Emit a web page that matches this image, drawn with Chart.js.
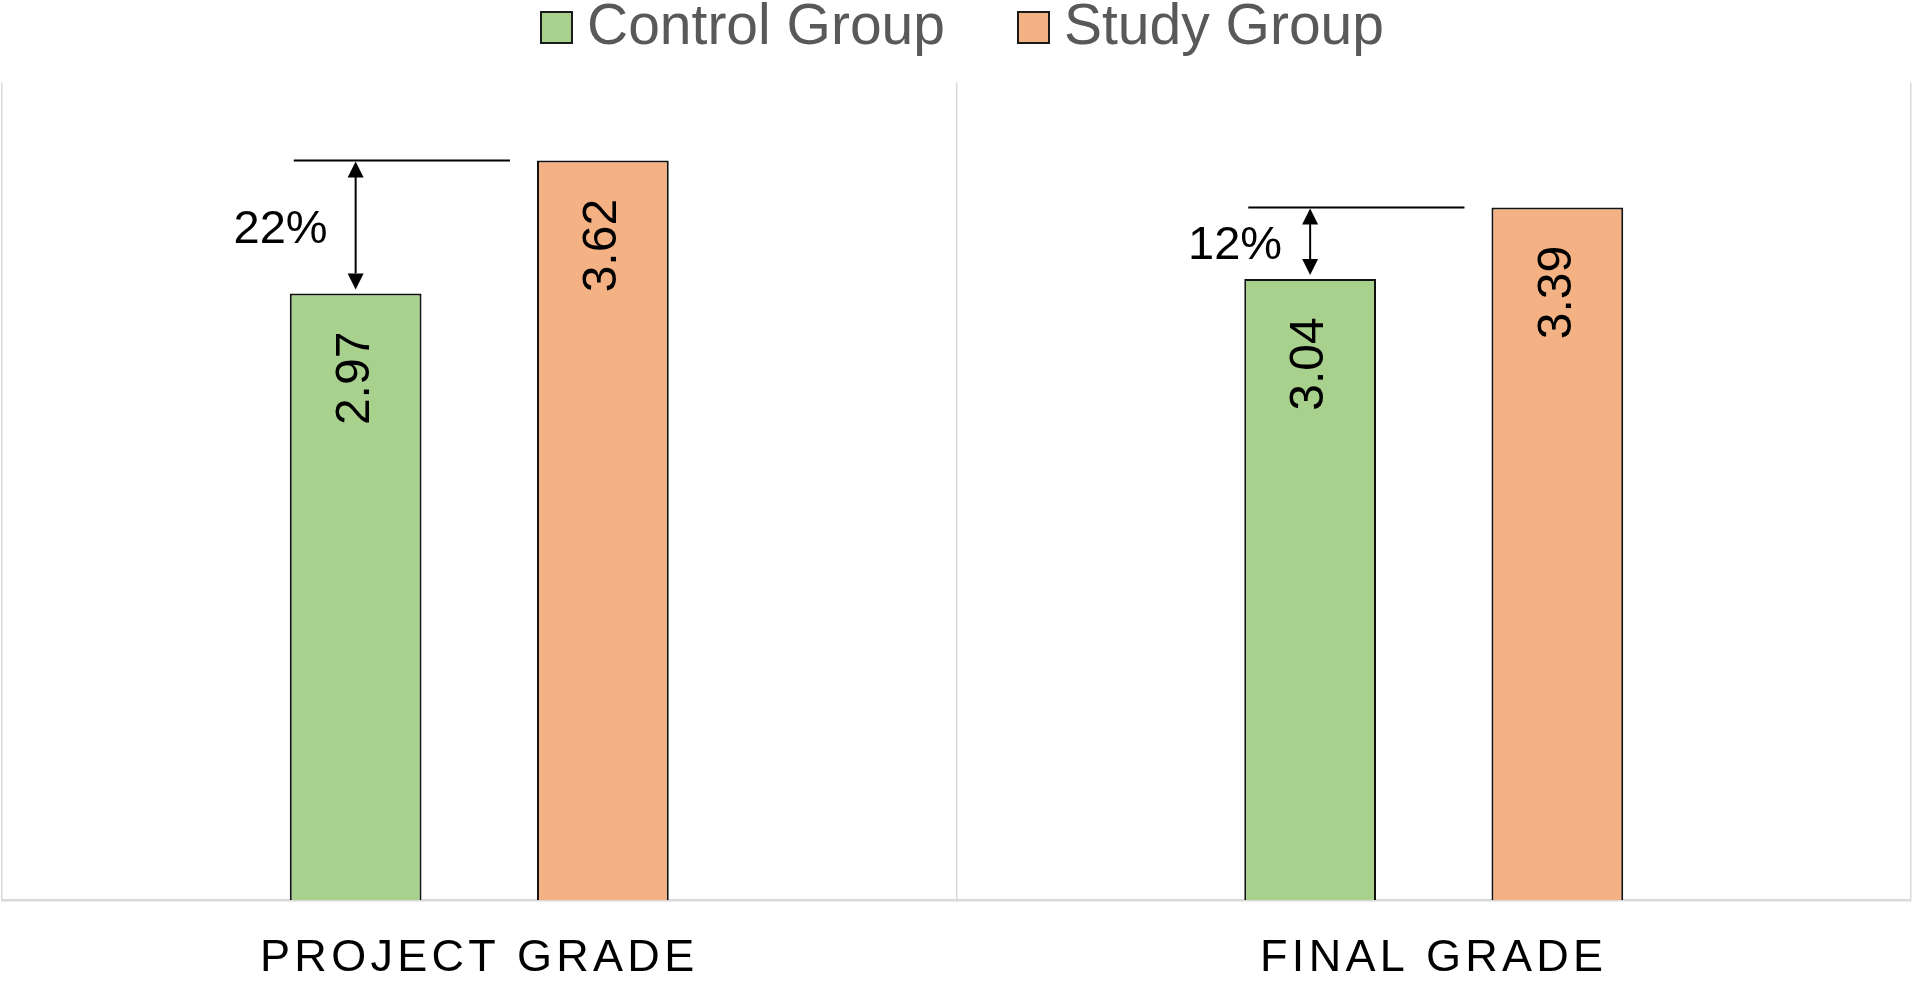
<!DOCTYPE html>
<html>
<head>
<meta charset="utf-8">
<title>Project / Final grade</title>
<script src="https://cdn.jsdelivr.net/npm/chart.js@4.4.1/dist/chart.umd.min.js"></script>
<style>
  html, body { margin: 0; padding: 0; background: #fff; }
  #wrap { width: 1913px; height: 981px; }
</style>
</head>
<body>
<div id="wrap"><canvas id="gradeChart"></canvas></div>
<script>
// Control vs study group grades
const categories = ['PROJECT GRADE', 'FINAL GRADE'];
const seriesNames = ['Control Group', 'Study Group'];
const controlScores = [2.97, 3.04];
const studyScores = [3.62, 3.39];
const gapLabels = ['22%', '12%'];

const FONT = '"Liberation Sans", Arial, sans-serif';
const GREEN = '#A9D18E';
const ORANGE = '#F4B183';

// --- legend drawn on top, Excel-like ---
const topLegend = {
    id: 'topLegend',
    afterDraw(chart) {
        const ctx = chart.ctx;
        const box = 31, gap = 15, itemGap = 73;
        ctx.save();
        ctx.font = '57px ' + FONT;
        const items = chart.data.datasets.map(ds => ({
            text: ds.label,
            fill: ds.backgroundColor,
            w: ctx.measureText(ds.label).width
        }));
        const total = items.reduce((s, it) => s + box + gap + it.w, 0) + itemGap * (items.length - 1);
        let x = (chart.width - total) / 2 + 6;
        items.forEach(it => {
            ctx.fillStyle = it.fill;
            ctx.fillRect(x, 12, box, box);
            ctx.lineWidth = 2;
            ctx.strokeStyle = '#1a1a1a';
            ctx.strokeRect(x, 12, box, box);
            ctx.fillStyle = '#595959';
            ctx.textBaseline = 'alphabetic';
            ctx.textAlign = 'left';
            ctx.fillText(it.text, x + box + gap, 44);
            x += box + gap + it.w + itemGap;
        });
        ctx.restore();
    }
};

// tracking on the category labels only
const axisTracking = {
    id: 'axisTracking',
    beforeDraw(chart) { chart.ctx.letterSpacing = '4.3px'; },
    beforeDatasetsDraw(chart) { chart.ctx.letterSpacing = '0px'; }
};

// rotated values inside the bars
const valueLabels = {
    id: 'valueLabels',
    afterDatasetsDraw(chart) {
        const ctx = chart.ctx;
        chart.data.datasets.forEach((ds, di) => {
            chart.getDatasetMeta(di).data.forEach((bar, i) => {
                ctx.save();
                ctx.translate(bar.x, bar.y + 85);
                ctx.rotate(-Math.PI / 2);
                ctx.font = '48px ' + FONT;
                ctx.fillStyle = '#000';
                ctx.textAlign = 'center';
                ctx.textBaseline = 'middle';
                ctx.fillText(ds.data[i].toFixed(2), 0, 0);
                ctx.restore();
            });
        });
    }
};

// reference line + double arrow showing the gain
const gapArrows = {
    id: 'gapArrows',
    afterDatasetsDraw(chart) {
        const ctx = chart.ctx;
        const control = chart.getDatasetMeta(0).data;
        const study = chart.getDatasetMeta(1).data;
        const head = 16, half = 8;
        ctx.save();
        ctx.strokeStyle = '#000';
        ctx.fillStyle = '#000';
        ctx.lineWidth = 2;
        categories.forEach((c, i) => {
            const g = control[i], s = study[i];
            const gLeft = g.x - g.width / 2;
            const sLeft = s.x - s.width / 2;
            const top = s.y, bottom = g.y - 4;

            ctx.beginPath();
            ctx.moveTo(gLeft + 4, top);
            ctx.lineTo(sLeft - 27, top);
            ctx.stroke();

            const ax = g.x;
            ctx.beginPath();
            ctx.moveTo(ax, top + head);
            ctx.lineTo(ax, bottom - head);
            ctx.stroke();

            ctx.beginPath();
            ctx.moveTo(ax, top + 1);
            ctx.lineTo(ax - half, top + head + 1);
            ctx.lineTo(ax + half, top + head + 1);
            ctx.closePath();
            ctx.fill();

            ctx.beginPath();
            ctx.moveTo(ax, bottom);
            ctx.lineTo(ax - half, bottom - head);
            ctx.lineTo(ax + half, bottom - head);
            ctx.closePath();
            ctx.fill();

            ctx.font = '47px ' + FONT;
            ctx.textAlign = 'right';
            ctx.textBaseline = 'middle';
            ctx.fillText(gapLabels[i], ax - 28, (top + g.y) / 2 + 3);
        });
        ctx.restore();
    }
};

const chart = new Chart(document.getElementById('gradeChart'), {
    type: 'bar',
    data: {
        labels: categories,
        datasets: [
            { label: seriesNames[0], data: controlScores, backgroundColor: GREEN, borderColor: '#111', borderWidth: 2 },
            { label: seriesNames[1], data: studyScores, backgroundColor: ORANGE, borderColor: '#111', borderWidth: 2 }
        ]
    },
    options: {
        responsive: true,
        maintainAspectRatio: false,
        animation: false,
        devicePixelRatio: 1,
        layout: { padding: { top: 83, left: 2, right: 2, bottom: -36 } },
        datasets: { bar: { barPercentage: 0.533, categoryPercentage: 0.518 } },
        scales: {
            x: {
                grid: { color: '#d9d9d9', lineWidth: 1.5, drawTicks: false },
                border: { color: '#d9d9d9', width: 2.5 },
                ticks: { color: '#000', padding: 36, font: { family: FONT, size: 45, lineHeight: 1 } }
            },
            y: {
                display: false,
                min: 0,
                max: 4
            }
        },
        plugins: {
            legend: { display: false },
            tooltip: { enabled: false }
        }
    },
    plugins: [topLegend, axisTracking, valueLabels, gapArrows]
});
</script>
</body>
</html>
